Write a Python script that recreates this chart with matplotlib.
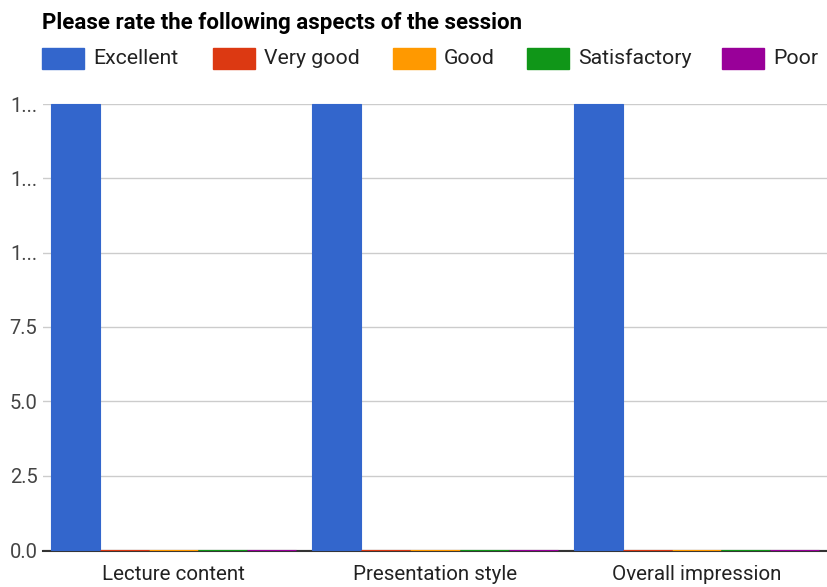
import matplotlib.pyplot as plt
import matplotlib.patches as mpatches
import numpy as np

plt.rcParams['font.family'] = ['Roboto', 'DejaVu Sans']

title = "Please rate the following aspects of the session"
categories = ["Lecture content", "Presentation style", "Overall impression"]
series = ["Excellent", "Very good", "Good", "Satisfactory", "Poor"]
values = {
    "Excellent": [15, 15, 15],
    "Very good": [0, 0, 0],
    "Good": [0, 0, 0],
    "Satisfactory": [0, 0, 0],
    "Poor": [0, 0, 0],
}
yticks = [0, 2.5, 5.0, 7.5, 10.0, 12.5, 15.0]
ytick_labels = ["0.0", "2.5", "5.0", "7.5", "1...", "1...", "1..."]
colors = ['#3366cc', '#dc3912', '#ff9900', '#109618', '#990099']

W, H = 827, 587
fig = plt.figure(figsize=(W / 100, H / 100), dpi=100)
ax = fig.add_axes([43 / W, 1 - 550 / H, 1 - 43 / W, (550 - 104) / H])

# spine position first: moving it resets the tick settings
for s in ['top', 'right', 'left']:
    ax.spines[s].set_visible(False)
ax.spines['bottom'].set_position(('outward', 1))
ax.spines['bottom'].set_color('#333333')
ax.spines['bottom'].set_linewidth(1.5)
ax.spines['bottom'].set_zorder(4)

x = np.arange(len(categories))
bw = 0.188
for i, name in enumerate(series):
    ax.bar(x + (i - 2) * bw, values[name], width=bw, color=colors[i],
           edgecolor=colors[i], linewidth=0.8, zorder=5, clip_on=False)

ax.set_xlim(-0.5, len(categories) - 0.5)
ax.set_ylim(0, 15)
ax.set_yticks(yticks)
ax.set_yticklabels(ytick_labels, fontsize=14.5, color='#444444')
ax.set_xticks(x)
ax.set_xticklabels(categories, fontsize=14.8, color='#222222')
ax.tick_params(axis='y', length=0, pad=4)
ax.tick_params(axis='x', length=0, pad=10)
ax.grid(axis='y', color='#cccccc', linewidth=1, zorder=0)

fig.text(42 / W, 1 - 22.5 / H, title, fontsize=16, fontweight='bold',
         va='center', ha='left', color='#000000')

# legend drawn by hand
swatch_x = [42, 213, 393, 527, 722]
for i, name in enumerate(series):
    x0 = swatch_x[i]
    fig.patches.append(mpatches.Rectangle((x0 / W, 1 - 69 / H), 42 / W, 21 / H,
                                          transform=fig.transFigure,
                                          color=colors[i], figure=fig))
    fig.text((x0 + 51) / W, 1 - 58.5 / H, name, fontsize=15.3, va='center',
             ha='left', color='#222222')

fig.savefig("out.png", dpi=100)
